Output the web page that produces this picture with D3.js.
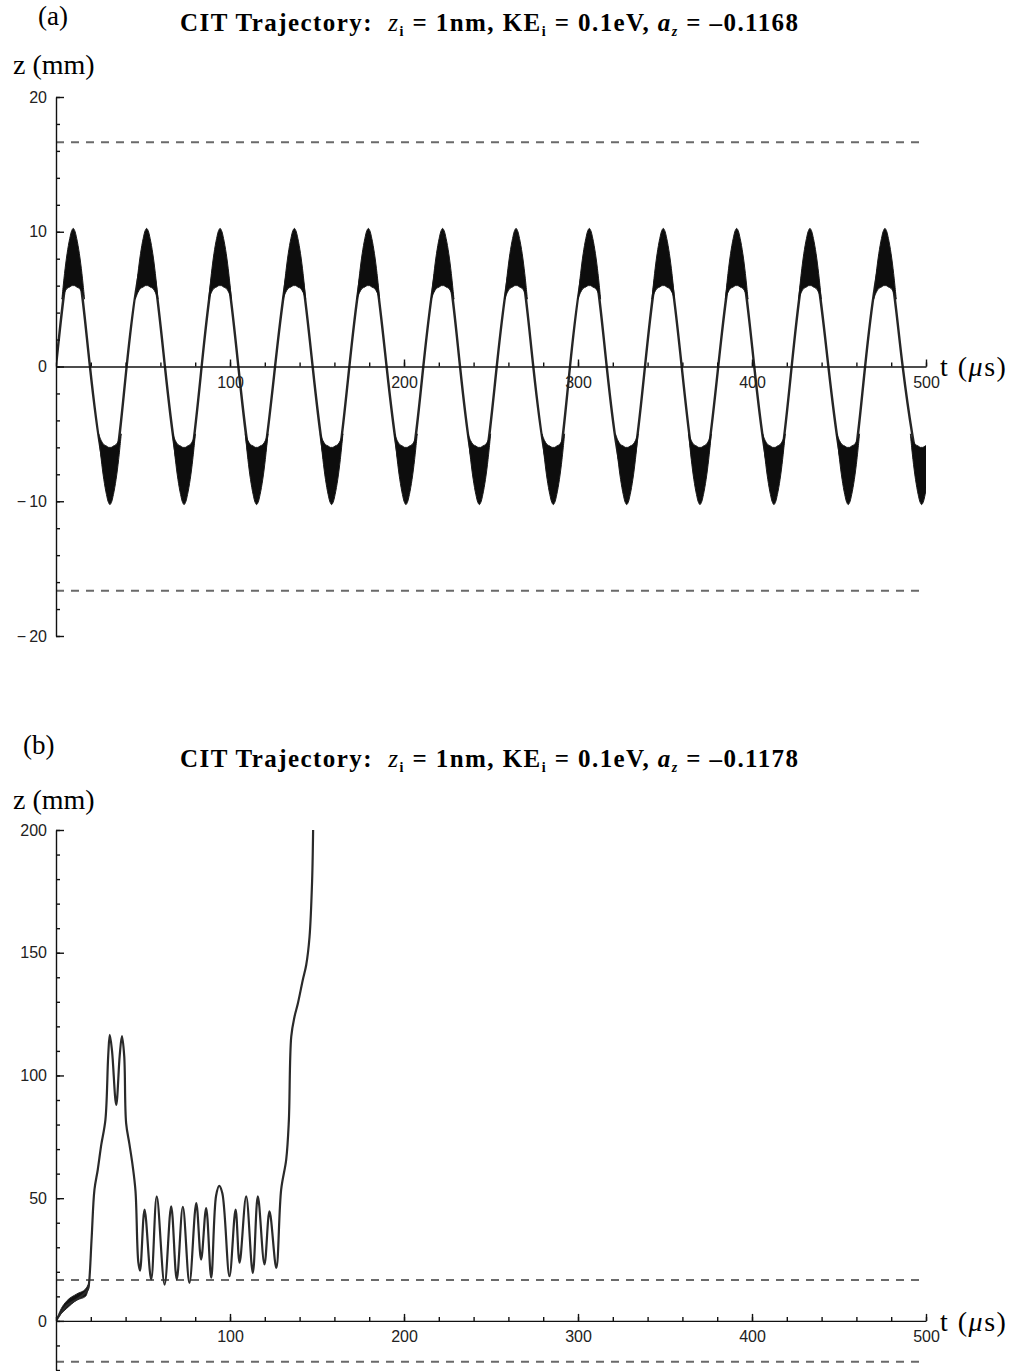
<!DOCTYPE html>
<html>
<head>
<meta charset="utf-8">
<script src="https://cdn.jsdelivr.net/npm/d3@7"></script>
<style>
  body { margin: 0; background: #fff; }
  .tick text { font-family: "Liberation Sans", Arial, sans-serif; font-size: 16px; fill: #222; }
  .serif { font-family: "Liberation Serif", "Times New Roman", serif; fill: #000; white-space: pre; }
</style>
</head>
<body>
<div id="wrapper"></div>
<script>
// ---- panel (a) : stable orbit, times (µs) ----
const peakTimesA   = [9.9, 52.1, 94.3, 137, 179.5, 222.2, 264.4, 306.5, 349, 391.2, 433.3, 476.4];
const troughTimesA = [31, 73.6, 115.3, 158.4, 201.1, 243.3, 285.8, 328, 370.1, 412.6, 455.3, 497.5];
const crossTimesA  = [19.5, 40.6, 62.6, 83.7, 104.8, 125.9, 147.5, 168.6, 190, 211.1, 232.2, 253.3,
                      274.3, 295.4, 316.5, 338.5, 359.6, 380.6, 401.3, 422.8, 443.9, 465, 486.6];
const ampA = 8.6;     // secular amplitude (mm)
const endZA = -8.3;   // value at t = 500
// micromotion lobe around each maximum (dt in µs, z in mm), mirrored for minima
const lobeDt = [-6.5, -5, -3.5, -2, -0.8, 0, 0.8, 2, 3.5, 5, 6.5];
const lobeHi = [5.0, 6.9, 8.4, 9.5, 10.1, 10.25, 10.1, 9.5, 8.4, 6.9, 5.0];
const lobeLo = [5.0, 5.5, 5.8, 5.9, 6.0, 6.0, 6.0, 5.9, 5.8, 5.5, 5.0];

// ---- panel (b) : ejected ion ----
const tB = [0, 5.8, 13.5, 18.3, 19, 20.5, 22.1, 24, 26, 28.4, 30, 30.9, 32.2, 34.6, 36.6, 37.9, 39.2,
            40.3, 42.2, 44.1, 45.7, 47.3, 48.3, 50.9, 54.7, 57.9, 62.4, 66.2, 69.4, 72.9, 76.7, 80.6,
            83.4, 86.3, 89.2, 92, 93.8, 95.6, 99.7, 103.2, 105.5, 109.3, 113.1, 116, 119.8, 122.7,
            126.6, 129.4, 132.3, 133.8, 135.2, 137.1, 139, 141.8, 143.8, 145.7, 147.2, 147.8];
const zB = [0, 6, 9.5, 12.8, 15.5, 34, 53.5, 61.6, 71.7, 81.9, 108, 116.5, 110, 88, 108, 116, 108,
            80.6, 72, 63, 52.8, 24, 20.5, 45.3, 16.9, 50.7, 14.8, 46.7, 16.9, 46.5, 15.5, 48,
            25, 46, 17.6, 51, 55, 52, 18.2, 45.3, 23.7, 50.7, 19.6, 50.7, 23, 44.6,
            21.6, 53.5, 65.7, 81.2, 115.8, 124, 129.3, 138.8, 145, 156.4, 179.5, 202];
// thick start of the trajectory (micromotion band)
const tBandB  = [0, 3, 6, 12, 17, 19];
const zBandLo = [0, 3, 5, 8.5, 10, 14.5];
const zBandHi = [0, 5, 8, 11, 13, 15.5];

const xTicks = [100, 200, 300, 400, 500];
const yTicksA = [-20, -10, 0, 10, 20];
const yTicksB = [0, 50, 100, 150, 200];
const electrodeZ = 16.65; // dashed lines at +/- this (mm)

const width = 1016, height = 1371;
const svg = d3.select("#wrapper").append("svg")
  .attr("width", width).attr("height", height)
  .style("display", "block");
const defs = svg.append("defs");

const x = d3.scaleLinear().domain([0, 500]).range([56, 926]);
const yA = d3.scaleLinear().domain([-20, 20]).range([636, 97]);
const yB = d3.scaleLinear().domain([-20, 200]).range([1370, 830]);

const fmt = d => d < 0 ? "\u2212\u2009" + (-d) : String(d);

function drawTitle(yPos, az) {
  const t = svg.append("text").attr("class", "serif")
    .attr("x", 180).attr("y", yPos)
    .attr("textLength", 618).attr("lengthAdjust", "spacing")
    .style("font-size", "25px").style("font-weight", "bold");
  t.append("tspan").text("CIT Trajectory:  ");
  t.append("tspan").style("font-style", "italic").style("font-weight", "normal").text("z");
  t.append("tspan").attr("dy", 5).style("font-size", "14px").text("i");
  t.append("tspan").attr("dy", -5).text(" = 1nm, KE");
  t.append("tspan").attr("dy", 5).style("font-size", "14px").text("i");
  t.append("tspan").attr("dy", -5).text(" = 0.1eV, ");
  t.append("tspan").style("font-style", "italic").text("a");
  t.append("tspan").attr("dy", 5).style("font-size", "14px").style("font-style", "italic").text("z");
  t.append("tspan").attr("dy", -5).text(" = \u20130." + az);
}

function drawLabels(tag, tagX, tagY, zY, tY) {
  svg.append("text").attr("class", "serif").attr("x", tagX).attr("y", tagY)
    .style("font-size", "27px").text(tag);
  svg.append("text").attr("class", "serif").attr("x", 13).attr("y", zY)
    .style("font-size", "28px").text("z (mm)");
  const t = svg.append("text").attr("class", "serif").attr("x", 940).attr("y", tY)
    .style("font-size", "28px").style("letter-spacing", "1.5px");
  t.append("tspan").text("t (");
  t.append("tspan").style("font-style", "italic").text("\u03bc");
  t.append("tspan").text("s)");
}

function drawAxes(y, yMajor, yMinorCount) {
  const g = svg.append("g");
  // minor ticks
  g.append("g").attr("transform", `translate(${x(0)},0)`)
    .call(d3.axisLeft(y).ticks(yMinorCount).tickSize(-4).tickFormat(""))
    .call(s => s.select(".domain").remove());
  g.append("g").attr("transform", `translate(0,${y(0)})`)
    .call(d3.axisBottom(x).ticks(25).tickSize(-4).tickFormat(""))
    .call(s => s.select(".domain").remove());
  // major ticks and labels
  g.append("g").attr("transform", `translate(${x(0)},0)`)
    .call(d3.axisLeft(y).tickValues(yMajor).tickSize(-8).tickSizeOuter(0).tickPadding(9).tickFormat(fmt));
  g.append("g").attr("transform", `translate(0,${y(0)})`)
    .call(d3.axisBottom(x).tickValues(xTicks).tickSize(-7).tickSizeOuter(0).tickPadding(10).tickFormat(fmt));
  g.selectAll(".domain, .tick line").attr("stroke", "#111").attr("stroke-width", 1.4);
}

function drawElectrodes(y) {
  svg.append("g").selectAll("line")
    .data([electrodeZ, -electrodeZ])
    .join("line")
    .attr("x1", x(0)).attr("x2", x(500))
    .attr("y1", d => y(d)).attr("y2", d => y(d))
    .attr("stroke", "#6a6a6a").attr("stroke-width", 2)
    .attr("stroke-dasharray", "8,7");
}

function clipRect(id, y, top, bottom) {
  defs.append("clipPath").attr("id", id)
    .append("rect").attr("x", x(0)).attr("y", y(top))
    .attr("width", x(500) - x(0)).attr("height", y(bottom) - y(top));
}

// ---------- panel (a) ----------
drawTitle(31, "1168");
drawLabels("(a)", 38, 25, 74, 376);
drawElectrodes(yA);
clipRect("clipA", yA, 20, -20);

const ptsA = [{t: 0, z: 0}]
  .concat(crossTimesA.map(t => ({t, z: 0})))
  .concat(peakTimesA.map(t => ({t, z: ampA})))
  .concat(troughTimesA.map(t => ({t, z: -ampA})))
  .concat([{t: 500, z: endZA}])
  .sort((a, b) => d3.ascending(a.t, b.t));

const gA = svg.append("g").attr("clip-path", "url(#clipA)");
gA.append("path").datum(ptsA)
  .attr("fill", "none").attr("stroke", "#262626").attr("stroke-width", 2.4)
  .attr("d", d3.line().curve(d3.curveNatural).x(d => x(d.t)).y(d => yA(d.z)));

const lobes = peakTimesA.map(tp => ({tp, s: 1}))
  .concat(troughTimesA.map(tp => ({tp, s: -1})));
const lobeArea = (tp, s) => d3.area().curve(d3.curveCatmullRom)
  .x(i => x(tp + lobeDt[i])).y0(i => yA(s * lobeLo[i])).y1(i => yA(s * lobeHi[i]));
gA.selectAll(".lobe").data(lobes).join("path")
  .attr("class", "lobe")
  .attr("fill", "#0d0d0d").attr("stroke", "#1a1a1a").attr("stroke-width", 1)
  .attr("d", d => lobeArea(d.tp, d.s)(d3.range(lobeDt.length)));

drawAxes(yA, yTicksA, 20);

// ---------- panel (b) ----------
drawTitle(767, "1178");
drawLabels("(b)", 23, 754, 809, 1331);
drawElectrodes(yB);
clipRect("clipB", yB, 200, -20);

const gB = svg.append("g").attr("clip-path", "url(#clipB)");
gB.append("path").datum(d3.range(tBandB.length))
  .attr("fill", "#111").attr("stroke", "#222").attr("stroke-width", 1)
  .attr("d", d3.area().curve(d3.curveMonotoneX)
    .x(i => x(tBandB[i])).y0(i => yB(zBandLo[i])).y1(i => yB(zBandHi[i])));
gB.append("path").datum(d3.range(tB.length))
  .attr("fill", "none").attr("stroke", "#2a2a2a").attr("stroke-width", 2.2)
  .attr("d", d3.line().curve(d3.curveCatmullRom.alpha(0.5))
    .x(i => x(tB[i])).y(i => yB(zB[i])));

drawAxes(yB, yTicksB, 22);
</script>
</body>
</html>
